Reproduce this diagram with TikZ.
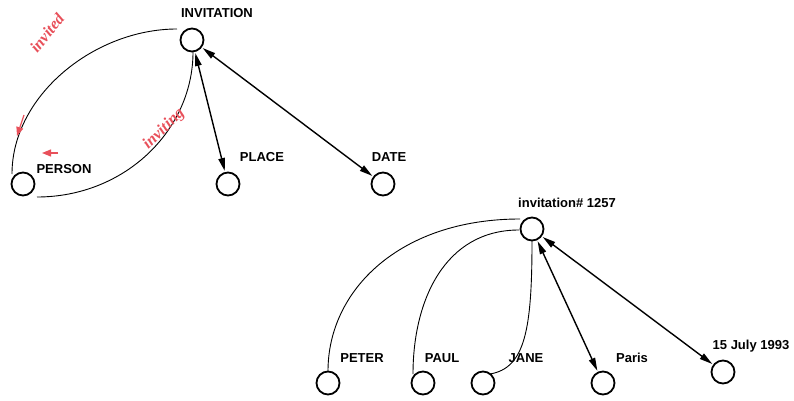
\documentclass[tikz,border=0pt]{standalone}
\usepackage{fontspec}
\setmainfont{Liberation Serif}
\setsansfont{Liberation Sans}
\usetikzlibrary{arrows.meta}
\definecolor{lblred}{RGB}{232,80,90}
\begin{document}
\begin{tikzpicture}[x=1pt,y=-1pt,
  vert/.style={circle,draw,line width=1.8pt,minimum size=23pt,inner sep=0pt},
  lbl/.style={font=\sffamily\bfseries\fontsize{13}{15}\selectfont,inner sep=0pt},
  rel/.style={line width=0.9pt},
  dbl/.style={line width=1.4pt,{Triangle[length=13pt,width=6.5pt]}-{Triangle[length=13pt,width=6.5pt]},shorten <=1pt,shorten >=1pt},
  redlbl/.style={font=\rmfamily\itshape\fontsize{16}{18}\selectfont,text=lblred,inner sep=0pt},
  redarr/.style={draw=lblred,line width=1.2pt,-{Triangle[length=9pt,width=7pt]},fill=lblred}]
\useasboundingbox (0,0) rectangle (794,401);
% first graph
\node[vert] (inv) at (192,40) {};
\node[vert] (person) at (23,184) {};
\node[vert] (place) at (228,184) {};
\node[vert] (date) at (383,184) {};
\node[lbl] (tinv) at (217,13) {INVITATION};
\node[lbl] (tperson) at (64,169) {PERSON};
\node[lbl] (tplace) at (262,157) {PLACE};
\node[lbl] (tdate) at (389,157) {DATE};
\coordinate (a1) at (177,29);
\coordinate (a2) at (12,174);
\draw[rel] (a1) .. controls (95,29) and (12,95) .. (a2);
\coordinate (b1) at (193,52);
\coordinate (b2) at (37,197);
\draw[rel] (b1) .. controls (193,130) and (125,197) .. (b2);
\draw[dbl] (inv) -- (place);
\draw[dbl] (inv) -- (date);
\node[redlbl,rotate=51] (tinvited) at (47,33) {\bfseries invited};
\node[redlbl,rotate=44] (tinviting) at (164,129) {\bfseries inviting};
\coordinate (r1s) at (24,115);
\coordinate (r1e) at (17,136);
\draw[redarr] (r1s) -- (r1e);
\coordinate (r2s) at (58,153);
\coordinate (r2e) at (42,153);
\draw[redarr] (r2s) -- (r2e);
% second graph
\node[vert] (inst) at (532,229) {};
\node[vert] (peter) at (328,383) {};
\node[vert] (paul) at (423,383) {};
\node[vert] (jane) at (483,383) {};
\node[vert] (paris) at (603,383) {};
\node[vert] (jul) at (723,372) {};
\node[lbl] (tinst) at (567,203) {invitation\# 1257};
\node[lbl] (tpeter) at (362,358) {PETER};
\node[lbl] (tpaul) at (442,358) {PAUL};
\node[lbl] (tjane) at (526,358) {JANE};
\node[lbl] (tparis) at (632,358) {Paris};
\node[lbl] (tjul) at (751,346) {15 July 1993};
\coordinate (p1) at (520,219);
\coordinate (p2) at (328,371);
\draw[rel] (p1) .. controls (400,219) and (328,290) .. (p2);
\coordinate (q1) at (519,230);
\coordinate (q2) at (413,374);
\draw[rel] (q1) .. controls (445,230) and (413,300) .. (q2);
\coordinate (j1) at (532,241);
\coordinate (j2) at (490,374);
\draw[rel] (j1) .. controls (532,330) and (525,368) .. (j2);
\draw[dbl] (inst) -- (paris);
\draw[dbl] (inst) -- (jul);
\end{tikzpicture}
\end{document}
